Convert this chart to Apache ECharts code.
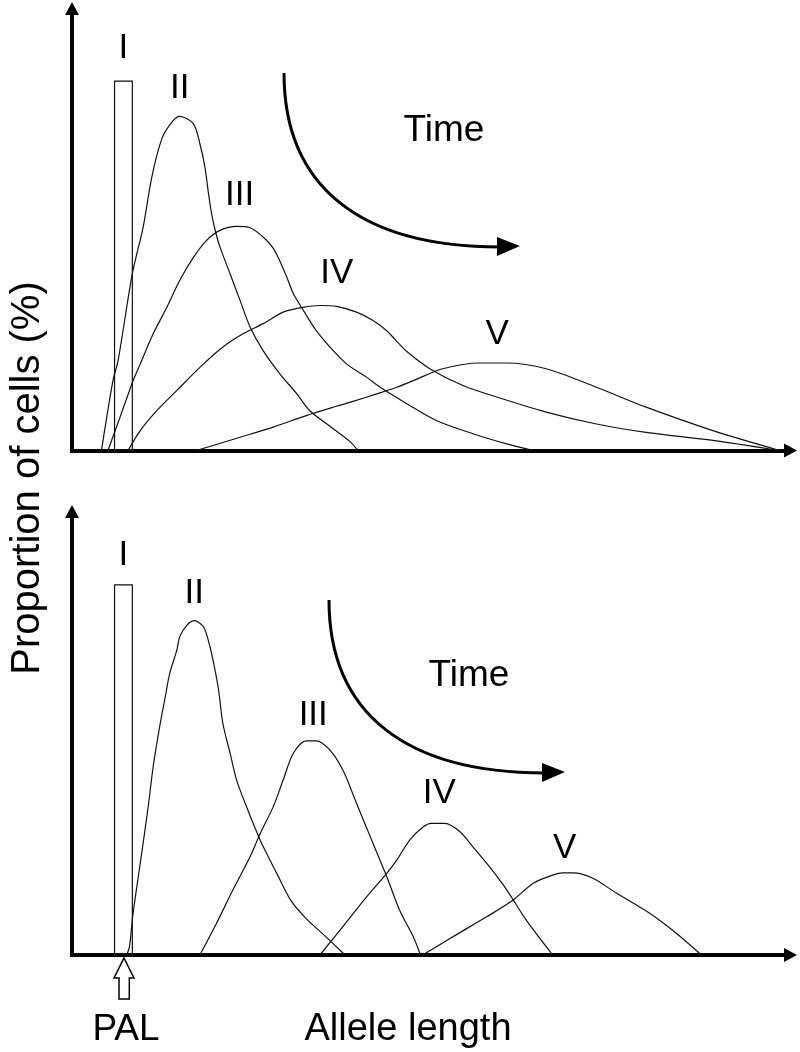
<!DOCTYPE html>
<html>
<head>
<meta charset="utf-8">
<script src="https://cdn.jsdelivr.net/npm/echarts@6/dist/echarts.min.js"></script>
<style>
  html, body { margin: 0; padding: 0; background: #fff; }
  #chart { width: 800px; height: 1052px; }
</style>
</head>
<body>
<div id="chart"></div>
<script>
// x: allele length (0-100), y: proportion of cells (0-100)
const curveNames = ['I', 'II', 'III', 'IV', 'V'];

// upper panel
const topI = [[7.16, 83.7]];
const topII = [[4.1,0],[5.7,15.8],[6.4,20.2],[8.4,40.0],[9.9,50.5],[11.1,61.8],[12.5,70.5],[13.9,74.3],[15.0,75.6],[16.9,73.9],[17.8,69.4],[18.5,64.1],[19.0,58.1],[19.4,53.8],[19.9,50.0],[20.6,46.0],[22.0,40.0],[23.4,33.9],[24.8,27.9],[26.6,22.6],[28.9,17.4],[31.3,12.8],[33.1,9.0],[35.9,5.5],[38.7,2.0],[39.8,0]];
const topIII = [[5.0,0],[6.7,7.6],[8.5,15.8],[9.5,19.6],[11.3,26.4],[13.2,32.4],[15.0,38.5],[16.9,43.7],[18.7,47.5],[20.6,49.8],[22.9,50.7],[24.8,50.4],[26.6,48.3],[28.0,45.8],[29.0,42.6],[29.9,39.2],[30.8,35.5],[32.2,31.7],[34.0,27.1],[35.9,23.4],[38.2,19.6],[41.0,16.6],[43.0,14.2],[46.6,10.6],[50.7,6.8],[55.8,3.8],[60.5,1.5],[64.2,0]];
const topIV = [[7.8,0],[9.5,4.5],[11.8,9.0],[14.6,13.6],[17.8,18.8],[21.0,23.4],[23.8,26.4],[26.6,28.7],[29.4,31.3],[32.2,32.4],[34.5,32.8],[36.8,32.6],[39.6,31.3],[41.9,29.4],[43.8,27.1],[45.2,24.7],[46.6,22.4],[49.8,18.5],[54.4,14.7],[59.1,12.1],[66.0,8.7],[73.0,6.0],[79.9,4.1],[89.2,2.3],[98.5,0]];
const topV = [[17.3,0],[23.4,3.0],[28.0,5.3],[32.6,7.9],[36.8,10.0],[39.1,11.1],[42.4,12.8],[45.2,14.3],[47.5,15.8],[51.6,18.5],[56.8,19.8],[60.5,19.8],[66.0,18.5],[73.0,14.3],[79.9,9.8],[89.2,4.5],[98.5,0]];

// lower panel
const botI = [[7.16, 83.6]];
const botII = [[7.6,0],[8.0,1.9],[8.5,9.4],[9.5,20.7],[10.6,33.4],[11.3,42.5],[12.2,51.5],[12.9,57.5],[13.6,63.5],[14.6,68.8],[15.0,71.8],[16.0,74.4],[17.0,75.4],[18.3,74.0],[19.2,69.5],[19.9,64.3],[20.4,59.8],[21.0,52.2],[22.0,45.5],[22.9,39.5],[24.3,33.4],[26.2,25.9],[28.5,18.4],[30.5,12.2],[32.6,8.2],[35.2,4.3],[38.0,0]];
const botIII = [[17.8,0],[20.1,7.1],[22.4,14.7],[24.8,22.2],[26.2,27.4],[28.0,33.4],[29.4,39.5],[30.8,45.5],[32.6,48.3],[34.0,48.3],[35.9,46.2],[37.7,41.7],[39.6,34.2],[41.5,26.7],[43.8,17.7],[45.6,10.1],[47.5,4.1],[48.5,0]];
const botIV = [[34.5,0],[37.7,6.4],[41.0,13.1],[43.8,18.4],[45.2,21.4],[47.0,25.9],[48.9,28.9],[50.0,29.7],[51.9,29.7],[54.0,27.8],[55.8,24.4],[58.1,19.9],[60.5,14.7],[63.2,7.9],[66.9,0]];
const botV = [[48.8,0],[53.0,4.1],[57.7,8.6],[61.4,12.4],[64.2,16.2],[66.9,18.0],[68.3,18.5],[69.7,18.5],[72.5,17.3],[75.8,13.9],[80.4,9.4],[84.1,4.9],[87.6,0]];

const FONT = "'Liberation Sans', Arial, Helvetica, sans-serif";

function peakLabel(name, dx, dy) {
    return {
        symbol: 'circle',
        symbolSize: 1,
        itemStyle: { color: 'rgba(0,0,0,0)' },
        silent: true,
        data: [{ type: 'max' }],
        label: {
            show: true,
            position: 'inside',
            offset: [dx, -dy],
            formatter: name,
            fontFamily: FONT,
            fontSize: 35,
            color: '#000'
        }
    };
}

function curve(data, idx, name, dx, dy) {
    return {
        type: 'line',
        name: name,
        xAxisIndex: idx,
        yAxisIndex: idx,
        data: data,
        smooth: 0.3,
        symbol: 'none',
        lineStyle: { color: '#111', width: 1.2 },
        markPoint: peakLabel(name, dx, dy),
        z: 3
    };
}

function bar(data, idx, dy) {
    return {
        type: 'bar',
        name: 'I',
        xAxisIndex: idx,
        yAxisIndex: idx,
        data: data,
        barWidth: 19,
        itemStyle: { color: 'rgba(0,0,0,0)', borderColor: '#111', borderWidth: 1.2 },
        markPoint: peakLabel('I', 0, dy),
        z: 2
    };
}

const axisLine = {
    show: true,
    symbol: ['none', 'triangle'],
    symbolSize: [14, 13],
    lineStyle: { color: '#000', width: 4, cap: 'square' }
};

function valueAxis(gridIndex) {
    return {
        type: 'value',
        gridIndex: gridIndex,
        min: 0,
        max: 100,
        axisLine: axisLine,
        axisTick: { show: false },
        axisLabel: { show: false },
        splitLine: { show: false }
    };
}

// "Time" arrow: quarter ellipse ending in a solid arrowhead
function timeArrow(x0, y0, x1, y1) {
    const rx = x1 - x0, ry = y1 - y0, k = 0.65;
    return [
        {
            type: 'bezierCurve',
            shape: { x1: x0, y1: y0, cpx1: x0, cpy1: y0 + k * ry, cpx2: x1 - k * rx, cpy2: y1, x2: x1, y2: y1 },
            style: { stroke: '#000', lineWidth: 3, fill: null },
            z: 10
        },
        {
            type: 'polygon',
            shape: { points: [[x1 - 3, y1 - 10], [x1 + 20, y1 - 1], [x1 - 3, y1 + 9]] },
            style: { fill: '#000' },
            z: 10
        }
    ];
}

function text(str, x, y, size, rotation) {
    return {
        type: 'text',
        x: x, y: y,
        rotation: rotation || 0,
        style: { text: str, font: size + 'px ' + FONT, fill: '#000', textAlign: 'center', textVerticalAlign: 'middle' },
        z: 10
    };
}

const chart = echarts.init(document.getElementById('chart'), null, { renderer: 'canvas' });
chart.setOption({
    backgroundColor: '#fff',
    animation: false,
    grid: [
        { left: 72, right: 9.5, top: 8.5, bottom: 601.5 },
        { left: 72, right: 9.5, top: 511.5, bottom: 97 }
    ],
    xAxis: [valueAxis(0), valueAxis(1)],
    yAxis: [valueAxis(0), valueAxis(1)],
    series: [
        bar(topI, 0, 32.5),
        curve(topII, 0, curveNames[1], 0, 28),
        curve(topIII, 0, curveNames[2], 3, 31),
        curve(topIV, 0, curveNames[3], 17, 32.5),
        curve(topV, 0, curveNames[4], 17, 29),
        bar(botI, 1, 29),
        curve(botII, 1, curveNames[1], 0, 27),
        curve(botIII, 1, curveNames[2], 7, 25),
        curve(botIV, 1, curveNames[3], 8, 30),
        curve(botV, 1, curveNames[4], 2, 25)
    ],
    graphic: [].concat(
        timeArrow(284, 73, 500, 247),
        timeArrow(329, 600, 545, 773),
        [
            text('Time', 444, 131, 37),
            text('Time', 469, 676, 37),
            text('Proportion of cells (%)', 28, 478, 40, Math.PI / 2),
            text('PAL', 126, 1030, 37),
            text('Allele length', 408, 1030, 38),
            {
                type: 'polygon',
                shape: { points: [[124, 958], [134, 978], [129.3, 978], [129.3, 999], [119, 999], [119, 978], [114, 978]] },
                style: { fill: '#fff', stroke: '#000', lineWidth: 1.5 },
                z: 10
            }
        ]
    )
});
</script>
</body>
</html>
